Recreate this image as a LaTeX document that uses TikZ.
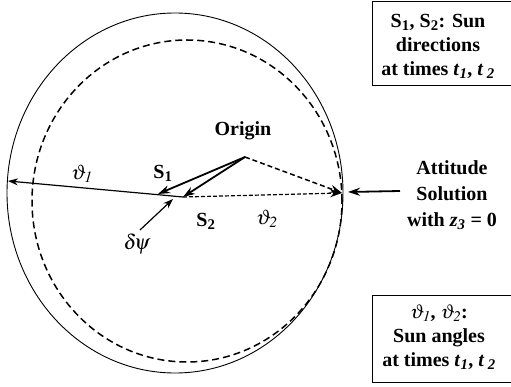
\documentclass[tikz,border=0pt]{standalone}
\usepackage{mathptmx}
\usepackage{fontspec}
\setmainfont{Liberation Serif}
\usetikzlibrary{arrows.meta}
\begin{document}
\begin{tikzpicture}[x=1pt,y=-1pt,
  lbl/.style={font=\fontsize{20}{24}\selectfont\bfseries, inner sep=0pt},
  mlbl/.style={font=\fontsize{21}{24}\selectfont, inner sep=0pt},
  vec/.style={line width=1.8pt,-{Stealth[length=12pt,width=8pt]}},
  dvec/.style={line width=1.5pt,dash pattern=on 5pt off 3pt,-{Stealth[length=12pt,width=8pt]}},
  thinvec/.style={line width=1.2pt,-{Stealth[length=10pt,width=7pt]}},
  infobox/.style={draw,line width=0.9pt}]
\useasboundingbox (0,0) rectangle (511,387);
% spheres
\draw[line width=0.9pt] (175,193) ellipse [x radius=168pt, y radius=180pt];
\draw[line width=1.5pt, dash pattern=on 7pt off 4pt] (187,201) ellipse [x radius=155pt, y radius=161pt];
% points
\coordinate (O) at (245,157);
\coordinate (P1) at (158,194);
\coordinate (P2) at (183,197);
\coordinate (L) at (8,181);
\coordinate (R) at (342,193);
\coordinate (D) at (140,230);
\coordinate (Dt) at (173,199);
\coordinate (A) at (400,191);
\coordinate (At) at (348,192);
% vectors
\draw[thinvec] (P2) -- (L);
\draw[dvec] (O) -- (R);
\draw[line width=1.2pt,dash pattern=on 4pt off 2pt,-{Stealth[length=12pt,width=8pt]}] (P2) -- (R);
\draw[vec] (O) -- (P1);
\draw[vec] (O) -- (P2);
\draw[thinvec] (D) -- (Dt);
\draw[vec] (A) -- (At);
% labels
\node[lbl] (origin) at (243,131) {Origin};
\node[lbl] (s1) at (163,173) {S\textsubscript{1}};
\node[lbl] (s2) at (206,221) {S\textsubscript{2}};
\node[mlbl] (th1) at (82,174) {$\vartheta_{\mathit{1}}$};
\node[mlbl] (th2) at (267,219) {$\vartheta_{\mathit{2}}$};
\node[mlbl] (dpsi) at (137,244) {$\delta\!\psi$};
\node[lbl,align=center,font=\fontsize{20}{26}\selectfont\bfseries] (att) at (452,195)
  {Attitude\\Solution\\with \textit{z}\textsubscript{\textit{3}} = 0};
% boxes
\draw[infobox] (372,1) rectangle (512,85);
\node[lbl,align=center] (box1) at (438,46)
  {S\textsubscript{1}, S\textsubscript{2}: Sun\\directions\\at times \textit{t}\textsubscript{\textit{1}}, \textit{t}\,\textsubscript{\textit{2}}};
\draw[infobox] (372,295) rectangle (512,382);
\node[lbl,align=center] (box2) at (439,337)
  {$\vartheta_{\mathit{1}}$, $\vartheta_{\mathit{2}}$:\\Sun angles\\at times \textit{t}\textsubscript{\textit{1}}, \textit{t}\,\textsubscript{\textit{2}}};
\end{tikzpicture}
\end{document}
